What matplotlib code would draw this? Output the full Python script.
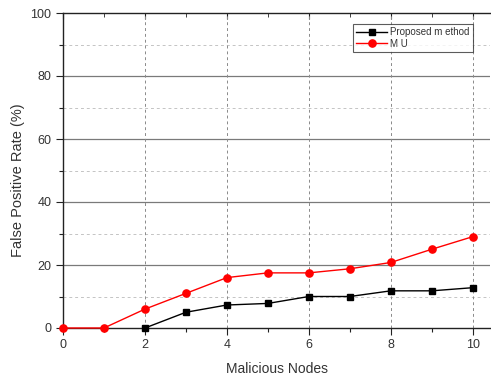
import matplotlib
matplotlib.use("Agg")
import matplotlib.pyplot as plt
from matplotlib.ticker import MultipleLocator

plt.rcParams['font.family'] = ['Liberation Sans', 'DejaVu Sans']

x_proposed = [2, 3, 4, 5, 6, 7, 8, 9, 10]
y_proposed = [0, 5, 7.3, 7.8, 10, 10, 11.8, 11.8, 12.8]
x_mu = [0, 1, 2, 3, 4, 5, 6, 7, 8, 9, 10]
y_mu = [0, 0, 6, 11, 16, 17.5, 17.5, 18.8, 20.8, 25, 29]

fig = plt.figure(figsize=(4.91, 3.8), dpi=100)
ax = fig.add_axes([63/491, 52/380, 427/491, 315/380])

ax.set_xlim(0, 10.42)
ax.set_ylim(0, 100)
ax.xaxis.set_major_locator(MultipleLocator(2))
ax.xaxis.set_minor_locator(MultipleLocator(1))
ax.yaxis.set_major_locator(MultipleLocator(20))
ax.yaxis.set_minor_locator(MultipleLocator(10))

# grid
for yv in [20, 40, 60, 80]:
    ax.axhline(yv, color='#7a7a7a', lw=0.9, zorder=1)
for yv in [10, 30, 50, 70, 90]:
    ax.axhline(yv, color='#c4c4c4', lw=0.7, ls=(0, (3, 3)), zorder=1)
for xv in [2, 4, 6, 8, 10]:
    ax.axvline(xv, color='#8a8a8a', lw=0.7, ls=(0, (3, 3)), zorder=1)

ax.plot(x_proposed, y_proposed, color='black', lw=1.0, marker='s', ms=4.5,
        label='Proposed m ethod', zorder=3, clip_on=False)
ax.plot(x_mu, y_mu, color='red', lw=1.0, marker='o', ms=5.2,
        label='M U', zorder=4, clip_on=False)

for s in ['top', 'left', 'bottom']:
    ax.spines[s].set_color('#222222')
    ax.spines[s].set_linewidth(1.0)
ax.spines['right'].set_visible(False)

ax.tick_params(axis='both', which='major', direction='out', length=5, width=0.8,
               labelsize=9, labelcolor='#333333', color='#222222')
ax.tick_params(axis='both', which='minor', direction='out', length=3, width=0.8,
               color='#222222')
ax.tick_params(axis='x', pad=3)

top = ax.secondary_xaxis('top')
top.xaxis.set_major_locator(MultipleLocator(2))
top.xaxis.set_minor_locator(MultipleLocator(1))
top.tick_params(which='major', direction='in', length=4, labeltop=False, color='#222222')
top.tick_params(which='minor', direction='in', length=3, color='#222222')
top.spines['top'].set_visible(False)

ax.set_xlabel('Malicious Nodes', fontsize=10, color='#333333', labelpad=8)
ax.set_ylabel('False Positive Rate (%)', fontsize=10.5, color='#333333', labelpad=6)
ax.yaxis.set_label_coords(-0.09, 0.47)

leg = ax.legend(loc='upper right', bbox_to_anchor=(10.0/10.42, 0.965), fontsize=7,
                frameon=True, fancybox=False, borderpad=0.35, labelspacing=0.15,
                handlelength=3.2, handletextpad=0.3, borderaxespad=0)
leg.get_frame().set_edgecolor('#333333')
leg.get_frame().set_linewidth(0.8)
for t in leg.get_texts():
    t.set_color('#333333')

fig.savefig('out.png', dpi=100)
